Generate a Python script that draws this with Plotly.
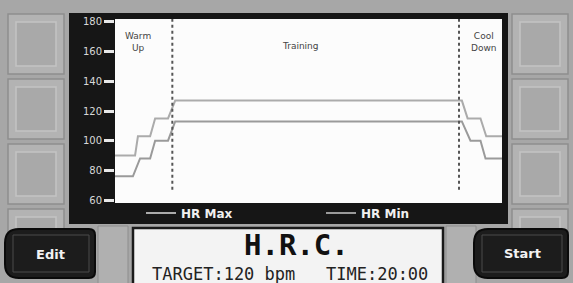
import plotly.graph_objects as go

# ---------------- data ----------------
time_max = [0, 1.4, 1.6, 2.45, 2.8, 3.7, 4.2, 24.2, 24.6, 25.5, 25.9, 27]
hr_max = [90, 90, 103, 103, 115, 115, 127, 127, 115, 115, 103, 103]
time_min = [0, 1.25, 1.75, 2.45, 2.8, 3.7, 4.2, 24.2, 24.8, 25.5, 25.85, 27]
hr_min = [76, 76, 88, 88, 100, 100, 113, 113, 100, 100, 88, 88]
phase_bounds = [4, 24]
y_ticks = [60, 80, 100, 120, 140, 160, 180]
series_names = ["HR Max", "HR Min"]
title_text = "H.R.C."
info_text = "TARGET:120 bpm   TIME:20:00"

# ---------------- geometry helpers ----------------
W, H = 573, 283
L, R, T, B = 115, 502, 19, 203
PW, PH = R - L, B - T


def px(x):
    return (x - L) / PW


def py(y):
    return (B - y) / PH


fig = go.Figure()
fig.add_trace(go.Scatter(x=time_max, y=hr_max, mode="lines", name=series_names[0],
                         line=dict(color="#ababab", width=2)))
fig.add_trace(go.Scatter(x=time_min, y=hr_min, mode="lines", name=series_names[1],
                         line=dict(color="#9a9a9a", width=2)))

shapes = []


def rect(x0, y0, x1, y1, fill, line="rgba(0,0,0,0)", lw=0, layer="below"):
    shapes.append(dict(type="rect", xref="paper", yref="paper",
                       x0=px(x0), x1=px(x1), y0=py(y1), y1=py(y0),
                       fillcolor=fill, line=dict(color=line, width=lw), layer=layer))


# background tiles
for tx in (8, 512):
    for ty in (14, 79, 144, 209):
        rect(tx, ty, tx + 56, ty + 60, "#b3b3b3", "#8e8e8e", 1.5)
        rect(tx + 8, ty + 8, tx + 48, ty + 52, "#a9a9a9", "#c4c4c4", 1.5)
for tx in (98, 446):
    rect(tx, 226, tx + 30, 290, "#b0b0b0", "#8e8e8e", 1)

# black panel + white plot area
rect(69, 13, 508, 224, "#161616")
rect(L, T, R, B, "#fcfcfc")


def button(x0, y0, x1, y1):
    r = 14
    path = (f"M {px(x0 + r)},{py(y0)} L {px(x1 - 6)},{py(y0)} "
            f"Q {px(x1)},{py(y0)} {px(x1)},{py(y0 + 6)} "
            f"L {px(x1)},{py(y1 - 6)} Q {px(x1)},{py(y1)} {px(x1 - 6)},{py(y1)} "
            f"L {px(x0 + r)},{py(y1)} Q {px(x0)},{py(y1)} {px(x0)},{py(y1 - r)} "
            f"L {px(x0)},{py(y0 + r)} Q {px(x0)},{py(y0)} {px(x0 + r)},{py(y0)} Z")
    shapes.append(dict(type="path", xref="paper", yref="paper", path=path,
                       fillcolor="#1c1c1c", line=dict(color="#0a0a0a", width=2), layer="above"))
    rect(x0 + 8, y0 + 6, x1 - 6, y1 - 6, "rgba(0,0,0,0)", "#4a4a4a", 1, layer="above")


button(5, 229, 95, 278)
button(474, 229, 568, 278)

# center display box
rect(133, 228, 443, 290, "#f3f3f3", "#1a1a1a", 2.5, layer="above")

# phase boundaries
for xb in phase_bounds:
    shapes.append(dict(type="line", xref="x", yref="y", x0=xb, x1=xb, y0=67, y1=182,
                       line=dict(color="#555555", width=2, dash="dot"), layer="above"))

annotations = []


def ann(text, x, y, size, color, family="DejaVu Sans", bold=False):
    annotations.append(dict(text=f"<b>{text}</b>" if bold else text, xref="paper", yref="paper",
                            x=px(x), y=py(y), showarrow=False, xanchor="center", yanchor="middle",
                            font=dict(size=size, color=color, family=family), align="center"))


ann("Warm<br>Up", 138, 42, 9, "#444444")
ann("Training", 300, 46, 9, "#444444")
ann("Cool<br>Down", 484, 42, 9, "#444444")
ann("Edit", 50, 254, 13, "#f2f2f2", bold=True)
ann("Start", 522, 253, 13, "#f2f2f2", bold=True)
ann(title_text, 296, 245, 29, "#111111", family="DejaVu Sans Mono", bold=True)
ann(info_text, 290, 274, 17, "#222222", family="DejaVu Sans Mono")

fig.update_layout(
    width=W, height=H,
    margin=dict(l=L, r=W - R, t=T, b=H - B, pad=0),
    paper_bgcolor="#a7a7a7",
    plot_bgcolor="#fcfcfc",
    shapes=shapes,
    annotations=annotations,
    showlegend=True,
    legend=dict(orientation="h", x=px(141), y=py(213), xanchor="left", yanchor="middle",
                bgcolor="rgba(0,0,0,0)",
                font=dict(color="#f0f0f0", size=12, family="DejaVu Sans", weight="bold"),
                entrywidth=135, entrywidthmode="pixels", itemclick=False),
    xaxis=dict(range=[0, 27], visible=False, fixedrange=True),
    yaxis=dict(range=[58, 182], tickvals=y_ticks, showgrid=False, zeroline=False, showline=False,
               ticks="outside", ticklen=10, tickwidth=2.5, tickcolor="#e8e8e8",
               tickfont=dict(color="#d8d8d8", size=10, family="DejaVu Sans"), fixedrange=True),
)

fig.write_html(
    "out.html",
    config={"displayModeBar": False},
    post_script="document.body.style.margin='0';document.body.style.padding='0';"
                "document.body.style.background='#a7a7a7';document.body.style.overflow='hidden';",
)
